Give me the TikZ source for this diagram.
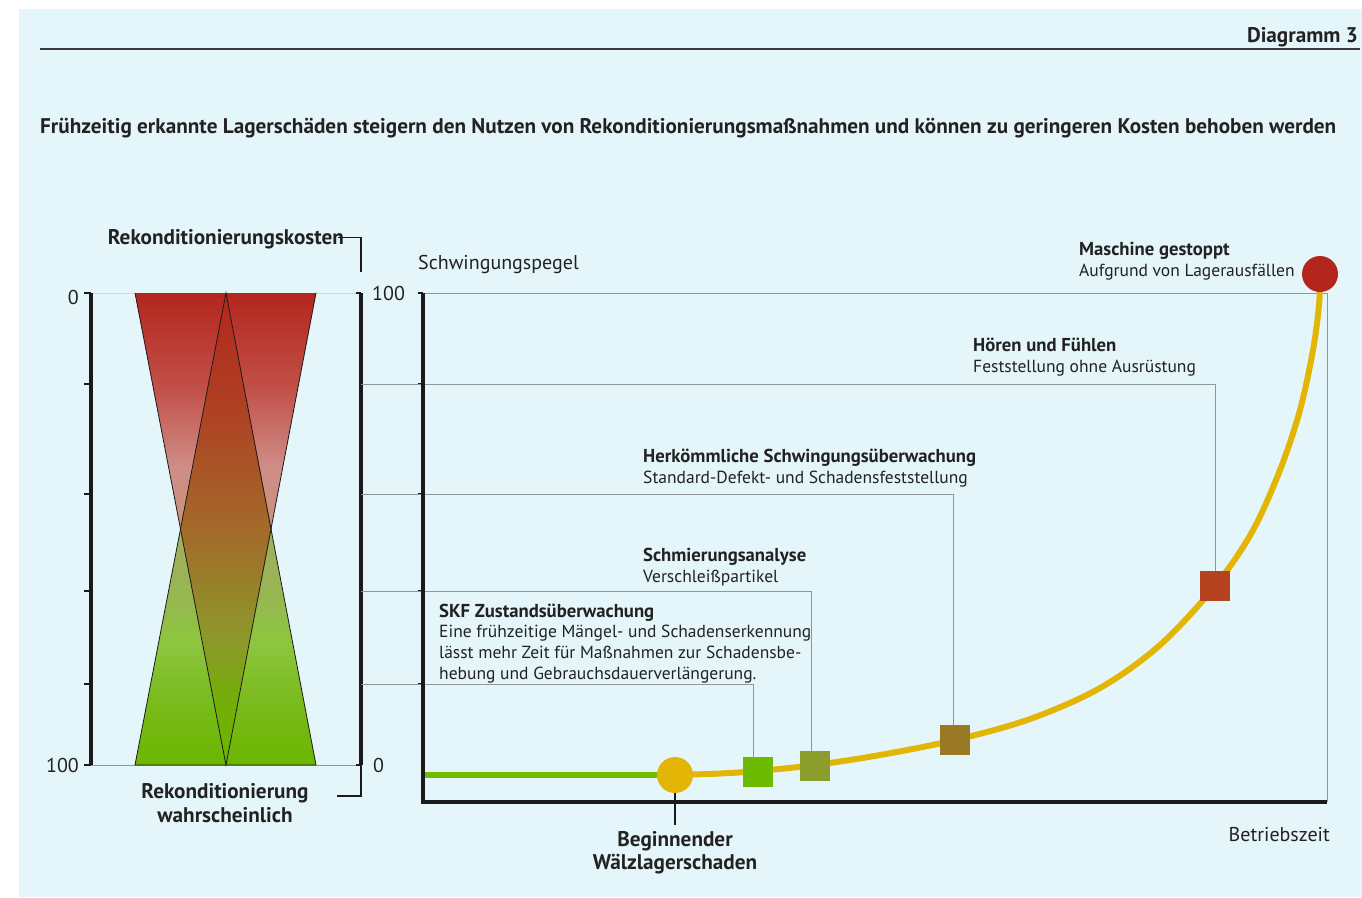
\documentclass[tikz,border=0pt]{standalone}
\usepackage{fontspec}
\setmainfont{PT Sans}
\usetikzlibrary{positioning}

\definecolor{bgc}{HTML}{E5F6FA}
\definecolor{axisc}{HTML}{1A1A1A}
\definecolor{guidec}{HTML}{8E9899}
\definecolor{palec}{HTML}{C9DCE0}
\definecolor{txtc}{HTML}{222222}
\definecolor{ylwc}{HTML}{E3B505}
\definecolor{grnline}{HTML}{72BC00}
\definecolor{sqa}{HTML}{6CBB00}
\definecolor{sqb}{HTML}{8A9D2D}
\definecolor{sqc}{HTML}{9A7925}
\definecolor{sqd}{HTML}{B5431F}
\definecolor{redc}{HTML}{B3261E}
\definecolor{redmid}{HTML}{C15048}
\definecolor{pinkc}{HTML}{CF8D88}
\definecolor{rosec}{HTML}{C8947B}
\definecolor{grnbot}{HTML}{6CB600}
\definecolor{grnb}{HTML}{7ABB1E}
\definecolor{grnc}{HTML}{8DC63F}
\definecolor{grnd}{HTML}{98B553}
\definecolor{grne}{HTML}{A2AF5E}
\definecolor{ova}{HTML}{74AE08}
\definecolor{ovb}{HTML}{8C9A2A}
\definecolor{ovc}{HTML}{A36A2A}
\definecolor{ovd}{HTML}{AE4424}

% fades of the two wedges and of their overlap
\pgfdeclareverticalshading{redfade}{100bp}{color(0bp)=(rosec); color(50bp)=(rosec);
  color(56.5bp)=(pinkc); color(65bp)=(redmid); color(75bp)=(redc); color(100bp)=(redc)}
\pgfdeclareverticalshading{greenfade}{100bp}{color(0bp)=(grnbot); color(25bp)=(grnbot);
  color(32bp)=(grnb); color(38bp)=(grnc); color(43.5bp)=(grnd); color(50bp)=(grne); color(100bp)=(grne)}
\pgfdeclareverticalshading{overlapfade}{100bp}{color(0bp)=(grnbot); color(25bp)=(grnbot);
  color(32bp)=(ova); color(38bp)=(ovb); color(50bp)=(ovc); color(61.5bp)=(ovd); color(75bp)=(redc); color(100bp)=(redc)}

\newcommand\notehead[1]{{\fontsize{18.7}{20.6}\selectfont\bfseries #1}}

\begin{document}
\begin{tikzpicture}[x=1pt, y=-1pt,
    axisline/.style={line width=3.6pt, draw=axisc},
    axtick/.style={line width=1.8pt, draw=axisc},
    guide/.style={line width=0.9pt, draw=guidec},
    edge/.style={line width=0.8pt, draw=axisc},
    bracket/.style={line width=1.1pt, draw=axisc},
    note/.style={anchor=base west, align=left, inner sep=0pt, text=txtc,
      font=\fontsize{17.5}{20.6}\selectfont},
    biglbl/.style={inner sep=0pt, text=txtc, font=\fontsize{21.2}{23.2}\selectfont\bfseries},
    axlbl/.style={inner sep=0pt, text=txtc, font=\fontsize{20}{24}\selectfont},
    marker/.style={minimum size=30pt, inner sep=0pt},
    dot/.style={circle, minimum size=36pt, inner sep=0pt}]
  \useasboundingbox (0,0) rectangle (1362,897);
  \fill[bgc] (19,9) rectangle (1362,897);

  % header
  \draw[line width=1.4pt, draw=axisc!85] (40,49) -- (1360,49);
  \node[biglbl, anchor=base east] (diag) at (1358,42) {Diagramm 3};
  \node[biglbl, anchor=base west] (title) at (40,133)
    {Frühzeitig erkannte Lagerschäden steigern den Nutzen von Rekonditionierungsmaßnahmen und können zu geringeren Kosten behoben werden};

  % left panel: the two wedges
  \draw[line width=1pt, draw=palec] (91,293) -- (361,293);
  \draw[guide] (91,765) -- (361,765);
  \shade[shading=redfade] (135,293) -- (316,293) -- (226,765) -- cycle;
  \shade[shading=greenfade] (135,765) -- (316,765) -- (226,293) -- cycle;
  \shade[shading=overlapfade] (226,293) -- (180.5,529) -- (226,765) -- (271.5,529) -- cycle;
  \draw[edge] (135,293) -- (226,765) -- (316,293);
  \draw[edge] (135,765) -- (226,293) -- (316,765) -- cycle;

  \draw[axisline] (91,293) -- (91,765);
  \foreach \y in {293,384,494,591,684,765}
    \draw[axtick] (84,\y) -- (91,\y);
  \draw[axisline] (361,293) -- (361,765);
  \foreach \y in {293,765}
    \draw[axtick] (356,\y) -- (361,\y);

  \node[axlbl, anchor=east] (cz) at (79,297) {0};
  \node[axlbl, anchor=east] (ch) at (79,765) {100};
  \node[axlbl, anchor=west] (vh) at (372,293) {100};
  \node[axlbl, anchor=west] (vz) at (373,765) {0};

  \node[biglbl, anchor=base] (cost) at (226,244) {Rekonditionierungskosten};
  \coordinate (costend) at (361,272);
  \draw[bracket] ([xshift=-6pt,yshift=1pt]cost.east) -| (costend);
  \node[biglbl, align=center, anchor=base] (likely) at (225,822) {Rekonditionierung\\wahrscheinlich};
  \coordinate (likelyend) at (337,796);
  \draw[bracket] (likelyend) -| (361,765);

  % right panel
  \draw[guide] (423,293) -- (1327,293) -- (1327,802);
  \foreach \y in {293,384,494,591,684}
    \draw[axtick] (418,\y) -- (423,\y);
  \node[axlbl, anchor=base west] (level) at (418,269) {Schwingungspegel};
  \node[axlbl, anchor=base east] (time) at (1330,841) {Betriebszeit};

  % leaders from the level axis
  \coordinate (la) at (361,684);
  \coordinate (lb) at (361,591);
  \coordinate (lc) at (361,494);
  \coordinate (ld) at (361,384);

  % condition curve
  \coordinate (start) at (425,775);
  \draw[line width=6pt, draw=grnline] (start) -- (675,775);
  \draw[line width=6pt, draw=ylwc] plot[smooth, tension=0.55] coordinates {
    (675,775) (720,773.5) (758,771) (815,765) (880,755) (955,740) (1030,719)
    (1100,688) (1160,645) (1215,586) (1252,532) (1280,470) (1300,410) (1313,350)
    (1319,305) (1320,274)};

  \node[marker, fill=sqa] (skf) at (758,772) {};
  \node[marker, fill=sqb] (oil) at (815,766) {};
  \node[marker, fill=sqc] (vib) at (955,740) {};
  \node[marker, fill=sqd] (feel) at (1215,586) {};
  \node[dot, fill=ylwc] (onset) at (675,775) {};
  \node[dot, fill=redc] (stop) at (1320,274) {};

  \draw[guide] (la) -| ([xshift=-5pt]skf.north);
  \draw[guide] (lb) -| ([xshift=-4pt]oil.north);
  \draw[guide] (lc) -| ([xshift=-2pt]vib.north);
  \draw[guide] (ld) -| (feel.north);

  \draw[axisline] (423,293) -- (423,802) -- (1327,802);

  \node[biglbl, align=center, anchor=north] (onsetlbl) at (675,831) {Beginnender\\Wälzlagerschaden};
  \draw[bracket] (onset.south) -- ([yshift=6pt]onsetlbl.north);

  % annotations
  \node[note] (nstop) at (1079,276) {\notehead{Maschine gestoppt}\\Aufgrund von Lagerausfällen};
  \node[note] (nfeel) at (973,372) {\notehead{Hören und Fühlen}\\Feststellung ohne Ausrüstung};
  \node[note] (nvib) at (643,483) {\notehead{Herkömmliche Schwingungsüberwachung}\\Standard-Defekt- und Schadensfeststellung};
  \node[note] (noil) at (643,582) {\notehead{Schmierungsanalyse}\\Verschleißpartikel};
  \node[note] (nskf) at (439,679) {\notehead{SKF Zustandsüberwachung}\\Eine frühzeitige Mängel- und Schadenserkennung\\lässt mehr Zeit für Maßnahmen zur Schadensbe-\\hebung und Gebrauchsdauerverlängerung.};
\end{tikzpicture}
\end{document}
